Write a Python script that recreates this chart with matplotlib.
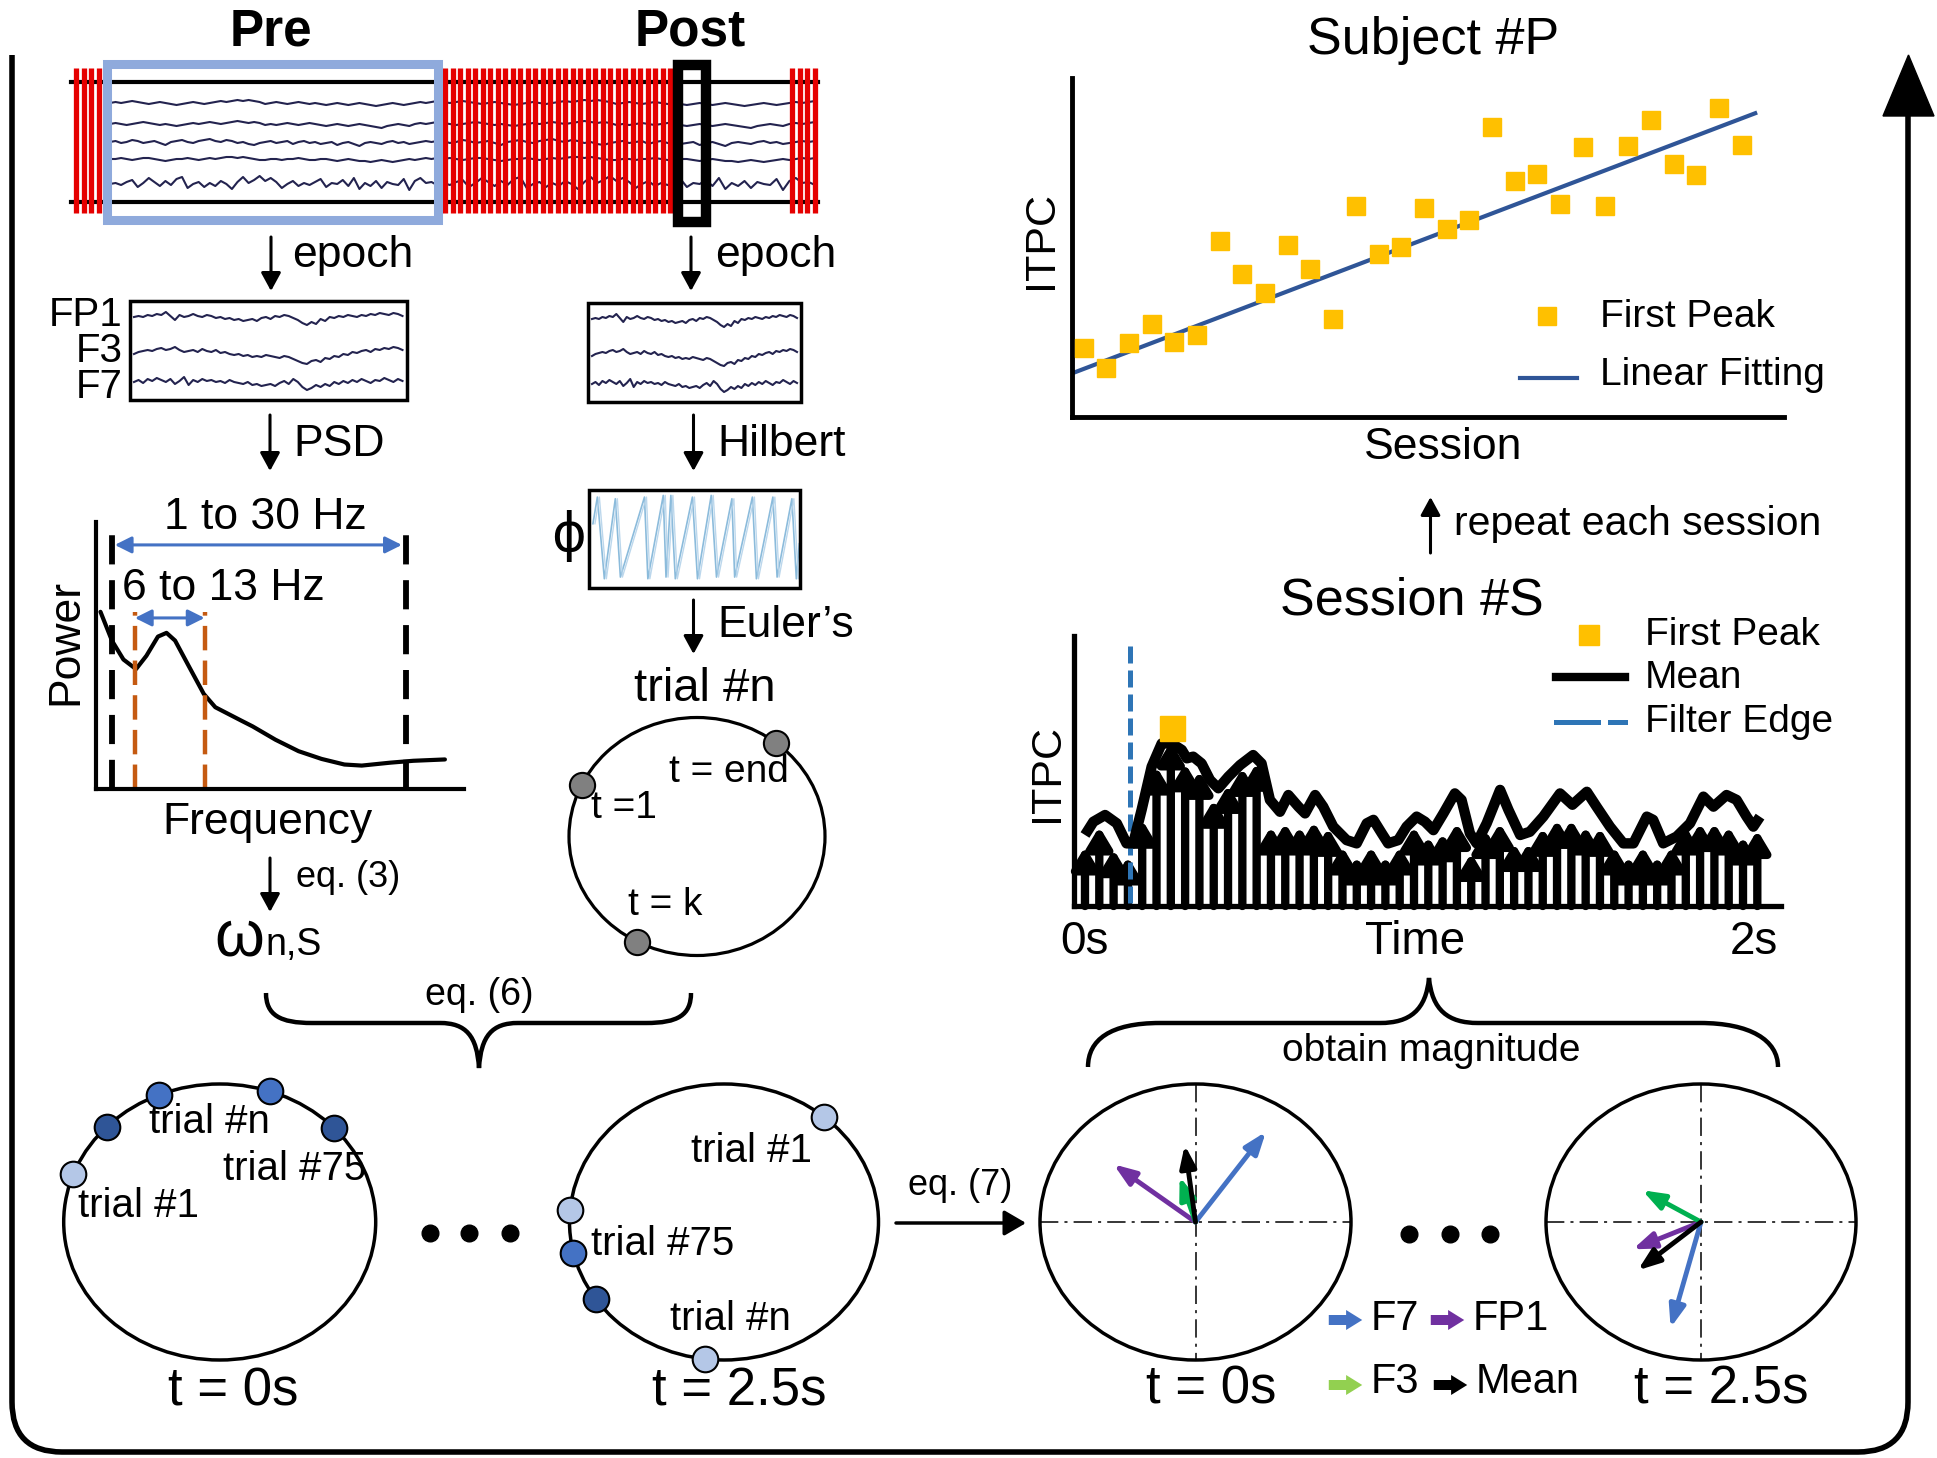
import numpy as np
import matplotlib
matplotlib.use("Agg")
import matplotlib.pyplot as plt
from matplotlib.patches import Ellipse, Rectangle, FancyArrowPatch, PathPatch, Polygon
from matplotlib.path import Path

plt.rcParams['font.family'] = ['Liberation Sans', 'DejaVu Sans']

# ---------------- data ----------------
# Subject #P : first-peak ITPC per session + linear fit
sessions = np.arange(1, 31)
first_peak_itpc = [0.203, 0.144, 0.219, 0.274, 0.222, 0.242, 0.520, 0.421, 0.367, 0.507,
                   0.436, 0.288, 0.623, 0.480, 0.501, 0.616, 0.555, 0.581, 0.856, 0.697,
                   0.717, 0.627, 0.796, 0.623, 0.799, 0.876, 0.746, 0.714, 0.911, 0.802]
fit_session = [0.58, 30.6]
fit_itpc = [0.131, 0.896]

# Session #S : ITPC over time (mean curve + single arrows)
mean_t = [0.000, 0.025, 0.060, 0.095, 0.124, 0.144, 0.169, 0.199, 0.229, 0.259,
          0.289, 0.304, 0.323, 0.348, 0.373, 0.398, 0.428, 0.463, 0.502, 0.527,
          0.552, 0.582, 0.607, 0.637, 0.657, 0.687, 0.711, 0.741, 0.781, 0.811,
          0.841, 0.861, 0.886, 0.905, 0.935, 0.960, 0.990, 1.015, 1.040, 1.070,
          1.104, 1.124, 1.149, 1.169, 1.199, 1.239, 1.264, 1.299, 1.328, 1.368,
          1.418, 1.455, 1.498, 1.527, 1.567, 1.607, 1.637, 1.677, 1.696, 1.726,
          1.766, 1.806, 1.846, 1.876, 1.915, 1.945, 1.975, 1.995, 2.015]
mean_itpc = [0.263, 0.312, 0.337, 0.306, 0.232, 0.232, 0.356, 0.516, 0.602, 0.602,
             0.578, 0.547, 0.553, 0.528, 0.467, 0.436, 0.479, 0.522, 0.559, 0.528,
             0.393, 0.349, 0.411, 0.368, 0.343, 0.411, 0.368, 0.294, 0.244, 0.232,
             0.306, 0.319, 0.269, 0.232, 0.244, 0.294, 0.331, 0.312, 0.281, 0.343,
             0.417, 0.393, 0.269, 0.232, 0.306, 0.430, 0.356, 0.263, 0.275, 0.331,
             0.417, 0.375, 0.423, 0.368, 0.294, 0.232, 0.232, 0.331, 0.319, 0.232,
             0.257, 0.306, 0.405, 0.368, 0.411, 0.393, 0.331, 0.294, 0.331]
stem_step = 0.0427
stem_itpc = [0.22, 0.294, 0.21, 0.183, 0.319, 0.516, 0.609, 0.528, 0.50, 0.393,
             0.448, 0.511, 0.53, 0.294, 0.307, 0.294, 0.312, 0.289, 0.22, 0.183,
             0.22, 0.183, 0.22, 0.294, 0.257, 0.269, 0.307, 0.196, 0.281, 0.307,
             0.233, 0.233, 0.289, 0.319, 0.319, 0.294, 0.289, 0.22, 0.183, 0.22,
             0.183, 0.22, 0.294, 0.307, 0.307, 0.294, 0.257, 0.281]
peak_t, peak_itpc = 0.261, 0.661
filter_edge_t = 0.133

# PSD sketch
psd_freq = [0.40, 1.52, 2.65, 3.88, 4.90, 6.03, 6.87, 7.71, 9.11, 10.52, 11.65,
            14.18, 15.31, 17.55, 19.81, 22.06, 24.30, 26.0, 28.81, 31.05, 34.15]
psd_power = [0.663, 0.555, 0.484, 0.448, 0.498, 0.570, 0.584, 0.555, 0.455, 0.355,
             0.305, 0.255, 0.233, 0.183, 0.140, 0.111, 0.090, 0.086, 0.097, 0.104, 0.109]
band_wide = [1.53, 30.38]
band_alpha = [3.77, 10.6]

# EEG traces (offsets, px up)
epoch_fp1 = [0, 1, 0, 2, 1, 3, 2, 5, 1, -3, 2, 0, 1, 3, 1, 0, 2, 1, -1, 0, -2, -1, -3, -2, -4,
             -3, -2, -4, -1, 0, -2, 1, 0, 2, 1, -1, -3, -6, -8, -5, -7, -2, -4, 0, -1, 1, 0,
             2, 1, 0, 2, 1, 3, 2, 4, 3, 2, 4, 3, 1]
epoch_f3 = [-2, 0, 1, 2, 1, 3, 4, 2, 3, 5, 2, 0, 1, 2, 0, 3, 1, 0, 2, -1, 0, -2, -3, -2, -4,
            -3, -5, -4, -5, -3, -4, -5, -6, -4, -5, -7, -9, -11, -12, -9, -8, -10, -6, -7,
            -4, -5, -2, -3, 0, -1, 1, 2, 0, 3, 2, 4, 3, 5, 4, 2]
epoch_f7 = [0, 2, -1, 3, 1, 4, 2, 0, 3, -2, 1, 5, -3, 2, 0, 3, 1, 2, 0, 1, -1, 2, 0, -1, -2,
            0, -3, -2, -4, -3, -2, -4, -1, 1, -2, 3, 0, -5, -8, -6, -3, -5, -2, -4, 0, -2, 1,
            -1, 2, 0, 3, 1, -1, 2, 1, 4, 2, 0, 3, 1]
strip_1 = [0, 1, 0, 1, 2, 1, 0, -1, 0, 1, 0, -1, -2, -1, 0, 1, 0, -1, 0, 1, 2, 1, 2, 3, 2, 3,
           2, 1, -1, 0, 1, 0, -1, 0, 1, 0, -1, 0, -1, -2, -1, 0, -1, -2, -1, 0, -1, -2, -3,
           -2, -1, 0, -1, -2, -1, 0, 1, 0, 1, 2]
strip_2 = [0, 1, 0, -1, 0, 1, 2, 1, 0, -1, 0, -1, -2, -1, 0, 1, 0, 1, 2, 1, 0, 1, 2, 3, 2, 1,
           2, 1, -1, 0, -1, 0, 1, 0, -1, 0, 1, 0, -1, -2, -1, 0, -1, -2, -1, 0, -1, -2, -3,
           -4, -2, -1, 0, -1, -2, 0, 1, 0, 1, 2]
strip_3 = [0, 1, -1, 0, 2, 1, -1, 0, 1, -1, -3, 0, 1, 2, 0, -1, 1, 2, 3, 1, 0, 2, 1, -1, 0,
           -2, -3, -1, 0, 1, -1, 0, 1, -2, 0, 1, -1, 0, -2, -1, 0, -3, -1, 0, -2, -4, -1, 0,
           -1, -2, 0, 1, -1, 0, -2, -1, 0, 1, 0, 1]
strip_4 = [0, 0, 1, 0, -1, 0, 1, 1, 0, -1, -2, -1, 0, 0, 1, 0, -1, 0, 1, 0, 1, 2, 2, 1, 2, 1,
           0, -1, -1, 0, 0, -1, 0, 0, 1, 0, -1, -1, 0, 0, -1, -2, -1, 0, -1, -2, -2, -3, -2,
           -1, -2, -3, -2, -1, 0, -1, 0, 1, 0, 1]
strip_5 = [0, 1, -1, 2, 4, -3, 1, 6, 2, -2, 3, -1, 5, 7, -4, 0, 2, -3, 1, -2, 3, 0, -5, 2, 7,
           1, 4, 8, 3, 6, 2, -4, 0, 3, -2, 1, -1, 2, 5, -3, 1, 0, 4, -2, 6, -5, 1, -2, 3, -4,
           2, 0, -1, 5, -6, 3, 6, 1, 2, -1]

# Hilbert phase sketch (fractions of the box)
saw_x = [.021, .042, .075, .127, .151, .265, .281, .354, .367, .390, .411, .492, .516,
         .581, .606, .679, .692, .776, .795, .873, .893, .963, .984, .998]
saw_y = [.653, .925, .092, .908, .109, .925, .092, .942, .109, .942, .092, .925, .092,
         .942, .109, .908, .109, .925, .092, .925, .109, .908, .092, .449]

# phases (deg) on the unit circles
trial_phase = [51.9, 154.3, 242.1]
phase_t0 = [159.6, 136.5, 113.0, 71.3, 43.1]
shade_t0 = ['light', 'dark', 'mid', 'mid', 'dark']
phase_t25 = [49.6, 175.0, 192.8, 213.8, 262.8]
shade_t25 = ['light', 'light', 'mid', 'dark', 'light']

# channel vectors (x, y in radius units): F7, FP1, F3, Mean
channels = ['F7', 'FP1', 'F3', 'Mean']
vec_t0 = [(0.453, 0.654), (-0.527, 0.418), (-0.102, 0.328), (-0.069, 0.558)]
vec_t25 = [(-0.196, -0.766), (-0.44, -0.198), (-0.379, 0.23), (-0.408, -0.35)]

# ---------------- styling ----------------
YELLOW = '#FFC000'
FIT_BLUE = '#2F5597'
EDGE_BLUE = '#2E75B6'
ARR_BLUE = '#4472C4'
ORANGE = '#C55A11'
RED = '#E50000'
TRACE = '#23234F'
SHADES = {'light': '#B4C7E7', 'mid': '#4472C4', 'dark': '#2F5597'}
VEC_COL = {'F7': '#4472C4', 'FP1': '#7030A0', 'F3': '#00B050', 'Mean': 'black'}
LEG_COL = {'F7': '#4472C4', 'FP1': '#7030A0', 'F3': '#92D050', 'Mean': 'black'}

W, H = 1937, 1458
fig = plt.figure(figsize=(W / 100, H / 100), dpi=100)
ax = fig.add_axes([0, 0, 1, 1])
ax.set_xlim(0, W)
ax.set_ylim(H, 0)
ax.axis('off')


def inset(l, t, r, b):
    a = fig.add_axes([l / W, 1 - b / H, (r - l) / W, (b - t) / H])
    a.set_facecolor('none')
    a.set_xticks([])
    a.set_yticks([])
    for s in ['top', 'right']:
        a.spines[s].set_visible(False)
    return a


def txt(x, y, s, size, ha='left', va='baseline', **kw):
    ax.text(x, y, s, fontsize=size, ha=ha, va=va, **kw)


def arrow(a, p0, p1, color='black', lw=2.2, ms=20, hl=0.55, hw=0.3, style='-|>', z=3):
    a.annotate('', xy=p1, xytext=p0, annotation_clip=False,
               arrowprops=dict(arrowstyle=f'{style},head_length={hl},head_width={hw}',
                               color=color, lw=lw, mutation_scale=ms,
                               shrinkA=0, shrinkB=0), zorder=z)


def on_ellipse(cx, cy, rx, ry, deg):
    r = np.deg2rad(deg)
    return cx + rx * np.cos(r), cy - ry * np.sin(r)


def trace(vals, x0, x1, y0, lw=1.3, color=TRACE, z=2):
    xs = np.linspace(x0, x1, len(vals))
    ax.plot(xs, y0 - np.array(vals), color=color, lw=lw, zorder=z)


def brace(pts, lw=3.2):
    codes = [Path.MOVETO, Path.CURVE4, Path.CURVE4, Path.CURVE4, Path.LINETO,
             Path.CURVE4, Path.CURVE4, Path.CURVE4, Path.CURVE4, Path.CURVE4, Path.CURVE4,
             Path.LINETO, Path.CURVE4, Path.CURVE4, Path.CURVE4]
    ax.add_patch(PathPatch(Path(pts, codes), fill=False, lw=lw, color='black'))


# ---------------- outer frame with arrow ----------------
frame = Path([(12, 55), (12, 1402), (12, 1452), (62, 1452), (1858, 1452),
              (1908, 1452), (1908, 1402), (1908, 112)],
             [Path.MOVETO, Path.LINETO, Path.CURVE3, Path.CURVE3, Path.LINETO,
              Path.CURVE3, Path.CURVE3, Path.LINETO])
ax.add_patch(PathPatch(frame, fill=False, lw=4, color='black'))
ax.add_patch(Polygon([(1908.5, 55), (1883, 116), (1934, 116)], color='black'))

# ---------------- raw EEG strip ----------------
txt(271, 45, 'Pre', 37, ha='center', weight='bold')
txt(690, 45, 'Post', 37, ha='center', weight='bold')
strip_y = [103, 124, 142, 159, 184]
for vals, yy in zip([strip_1, strip_2, strip_3, strip_4, strip_5], strip_y):
    trace(vals, 110, 437, yy, lw=1.5)
    trace(vals, 437, 815, yy, lw=1.5)
ax.plot([71, 818], [81.5, 81.5], color='black', lw=3, zorder=2)
ax.plot([71, 818], [202, 202], color='black', lw=3, zorder=2)
for x0, n in [(76, 4), (445, 31), (792, 4)]:
    ax.vlines(x0 + 7.5 * np.arange(n), 68, 213, colors=RED, lw=3.8, zorder=3)
ax.add_patch(Rectangle((106.5, 63.5), 331, 156, fill=False, lw=6.5, ec='#8FAADC', zorder=4))
ax.add_patch(Rectangle((678, 65), 27.5, 157, fill=False, lw=7.5, ec='black', zorder=4))

# epoch arrows
arrow(ax, (271, 237), (271, 291))
arrow(ax, (691, 237), (691, 291))
txt(292, 267, 'epoch', 32)
txt(715, 267, 'epoch', 32)

# epoch boxes
for bx0, bx1, by0, by1 in [(130, 406.5, 301, 400), (588, 801, 303, 402)]:
    ax.add_patch(Rectangle((bx0, by0), bx1 - bx0, by1 - by0, fill=False, lw=2.5, ec='black', zorder=4))
    off = by0 - 301
    for vals, yy in zip([epoch_fp1, epoch_f3, epoch_f7], [317, 352, 382]):
        trace(vals, bx0 + 4, bx1 - 4, yy + off, lw=1.5)
for lab, yb in zip(['FP1', 'F3', 'F7'], [326, 362, 398]):
    txt(123, yb, lab, 29, ha='right')

# PSD / Hilbert arrows
arrow(ax, (270, 415), (270, 471))
txt(293, 456, 'PSD', 32)
arrow(ax, (693.5, 415), (693.5, 471))
txt(717, 456, 'Hilbert', 32)

# ---------------- PSD sketch ----------------
ap = inset(96.4, 522, 463.8, 788.5)
ap.set_xlim(0, 36)
ap.set_ylim(0, 1)
for s in ['left', 'bottom']:
    ap.spines[s].set_linewidth(3)
ap.plot(psd_freq, psd_power, color='black', lw=3, solid_capstyle='round')
for f in band_wide:
    ap.plot([f, f], [0, 1], color='black', lw=4.2, ls=(0, (5, 2.7)))
for f in band_alpha:
    ap.plot([f, f], [0, 0.663], color=ORANGE, lw=3.2, ls=(0, (5.5, 2.3)))
arrow(ap, (band_wide[0] + 0.27, 0.914), (band_wide[1] - 0.45, 0.914), color=ARR_BLUE,
      lw=2.2, ms=20, hl=0.5, hw=0.25, style='<|-|>')
arrow(ap, (band_alpha[0], 0.640), (band_alpha[1], 0.640), color=ARR_BLUE,
      lw=2.2, ms=20, hl=0.5, hw=0.25, style='<|-|>')
txt(265, 529, '1 to 30 Hz', 32, ha='center')
txt(122, 600, '6 to 13 Hz', 32)
ax.text(77, 642, 'Power', fontsize=32, rotation=90, rotation_mode='anchor',
        ha='center', va='baseline')
txt(267, 834, 'Frequency', 32, ha='center')

arrow(ax, (270, 858), (270, 912))
txt(296, 887, 'eq. (3)', 26)
txt(214, 955, 'ω', 46)
txt(265, 955, 'n,S', 27)

# ---------------- Hilbert box ----------------
hb = (588.5, 489.7, 799.7, 587.8)
ax.add_patch(Rectangle((hb[0], hb[1]), hb[2] - hb[0], hb[3] - hb[1], fill=False, lw=2.5, ec='black', zorder=4))
sx = hb[0] + np.array(saw_x) * (hb[2] - hb[0])
sy = hb[3] - np.array(saw_y) * (hb[3] - hb[1])
ax.plot(sx, sy, color='#7FB4D8', lw=1.2, alpha=0.9)
ax.plot(sx + 2, sy, color='#B5D3EA', lw=1.0, alpha=0.9)
ax.text(568, 536, 'ϕ', fontsize=38, ha='center', va='center', family=['DejaVu Sans'])

arrow(ax, (693.5, 600), (693.5, 654))
txt(717, 637, 'Euler’s', 32)
txt(705, 701, 'trial #n', 34, ha='center')

# trial circle
tc = (697, 836.5, 128, 119)
ax.add_patch(Ellipse(tc[:2], 2 * tc[2], 2 * tc[3], fill=False, lw=2.3, ec='black'))
for ph in trial_phase:
    px, py = on_ellipse(*tc, ph)
    ax.scatter(px, py, s=330, color='#808080', edgecolor='black', lw=1.5, zorder=5)
txt(729, 782, 't = end', 28, ha='center')
txt(591, 818, 't =1', 28)
txt(628, 915, 't = k', 28)

# eq. (6) brace
brace([(266, 993), (266, 1015), (280, 1023), (312, 1023), (440, 1023),
       (466, 1023), (477, 1036), (479, 1068), (481, 1036), (492, 1023), (518, 1023),
       (646, 1023), (678, 1023), (691, 1015), (691, 993)])
txt(479, 1005, 'eq. (6)', 27, ha='center')

# ---------------- per-time circles of trial phases ----------------
c_left = (219.7, 1222, 156, 138)
c_mid = (724, 1222, 154.5, 138)
for c, phs, shades in [(c_left, phase_t0, shade_t0), (c_mid, phase_t25, shade_t25)]:
    ax.add_patch(Ellipse(c[:2], 2 * c[2], 2 * c[3], fill=False, lw=2.5, ec='black'))
    for ph, sh in zip(phs, shades):
        px, py = on_ellipse(*c, ph)
        ax.scatter(px, py, s=340, color=SHADES[sh], edgecolor='black', lw=1.5, zorder=5)
txt(149, 1133, 'trial #n', 29)
txt(223, 1180, 'trial #75', 29)
txt(78, 1217, 'trial #1', 29)
txt(691, 1162, 'trial #1', 29)
txt(591, 1255, 'trial #75', 29)
txt(670, 1330, 'trial #n', 29)
txt(233, 1405, 't = 0s', 38, ha='center')
txt(739, 1405, 't = 2.5s', 38, ha='center')
ax.plot([430, 469, 510], [1233, 1233, 1233], 'o', color='black', ms=12)

arrow(ax, (896, 1223), (1026, 1223), lw=2.5, ms=22, hl=0.6, hw=0.35)
txt(908, 1195, 'eq. (7)', 26)

# ---------------- vector circles ----------------
c_r1 = (1195.5, 1222, 155.5, 138)
c_r2 = (1701, 1222, 155, 138)
for c, vecs in [(c_r1, vec_t0), (c_r2, vec_t25)]:
    cx, cy, rx, ry = c
    ax.add_patch(Ellipse((cx, cy), 2 * rx, 2 * ry, fill=False, lw=2.5, ec='black'))
    ax.plot([cx - rx, cx + rx], [cy, cy], color='black', lw=1.1, ls=(0, (12, 4, 2, 4)))
    ax.plot([cx, cx], [cy - ry, cy + ry], color='black', lw=1.1, ls=(0, (12, 4, 2, 4)))
    for ch, (vx, vy) in zip(channels, vecs):
        arrow(ax, (cx, cy), (cx + vx * rx, cy - vy * ry), color=VEC_COL[ch],
              lw=3.5, ms=22, hl=0.6, hw=0.22)
txt(1211, 1403, 't = 0s', 38, ha='center')
txt(1721, 1403, 't = 2.5s', 38, ha='center')
ax.plot([1409, 1450, 1490], [1234, 1234, 1234], 'o', color='black', ms=12)

# channel legend
for ch, (x0, y0) in zip(channels, [(1326, 1320), (1428, 1320), (1326, 1385), (1431, 1385)]):
    ax.add_patch(FancyArrowPatch((x0, y0), (x0 + 39, y0), mutation_scale=20, lw=0,
                                 color=LEG_COL[ch],
                                 arrowstyle='simple,head_length=0.58,head_width=0.72,tail_width=0.36'))
    txt(x0 + 45, y0 + 10 if y0 < 1350 else y0 + 8, ch, 30)

# obtain magnitude brace
brace([(1088, 1067), (1088, 1040), (1110, 1023), (1160, 1023), (1380, 1023),
       (1410, 1023), (1426, 1010), (1429, 978), (1432, 1010), (1448, 1023), (1478, 1023),
       (1700, 1023), (1750, 1023), (1778, 1040), (1778, 1067)])
txt(1431, 1061, 'obtain magnitude', 28, ha='center')

# ---------------- Session #S ITPC ----------------
txt(1412, 614, 'Session #S', 37.5, ha='center')
at = inset(1074, 636, 1781, 906)
at.set_xlim(-0.0328, 2.0776)
at.set_ylim(0, 1)
for s in ['left', 'bottom']:
    at.spines[s].set_linewidth(3.8)
for k, h in enumerate(stem_itpc):
    tt = k * stem_step
    arrow(at, (tt, 0), (tt, h), lw=6, ms=24, hl=0.5, hw=0.3, z=2)
at.plot([filter_edge_t, filter_edge_t], [0.011, 0.967], color=EDGE_BLUE, lw=3.6,
        ls=(0, (3.4, 1.4)), zorder=3)
at.plot(mean_t, mean_itpc, color='black', lw=7.5, solid_joinstyle='round',
        solid_capstyle='butt', zorder=4)
at.plot([peak_t], [peak_itpc], 's', color=YELLOW, ms=18, zorder=5)
ax.text(1058, 773, 'ITPC', fontsize=31, rotation=90, rotation_mode='anchor',
        ha='center', va='baseline')
txt(1084, 954, '0s', 33, ha='center')
txt(1415, 954, 'Time', 33, ha='center')
txt(1754, 954, '2s', 33, ha='center')
# legend
ax.plot([1589], [635], 's', color=YELLOW, ms=15)
txt(1645, 645, 'First Peak', 28)
ax.plot([1556, 1625], [677, 677], color='black', lw=6)
txt(1645, 688, 'Mean', 28)
ax.plot([1556, 1598], [722, 722], color=EDGE_BLUE, lw=3.6)
ax.plot([1610, 1625], [722, 722], color=EDGE_BLUE, lw=3.6)
txt(1645, 732, 'Filter Edge', 28)

# repeat arrow
arrow(ax, (1430.5, 553), (1430.5, 497))
txt(1454, 535, 'repeat each session', 29.5)

# ---------------- Subject #P scatter ----------------
txt(1433, 54, 'Subject #P', 37.5, ha='center')
asc = inset(1072, 78, 1784, 417)
asc.set_xlim(0.49, 31.87)
asc.set_ylim(0, 1)
for s in ['left', 'bottom']:
    asc.spines[s].set_linewidth(3.5)
asc.plot(fit_session, fit_itpc, color=FIT_BLUE, lw=3)
asc.plot(sessions, first_peak_itpc, 's', color=YELLOW, ms=13, zorder=3)
ax.text(1052, 240, 'ITPC', fontsize=31, rotation=90, rotation_mode='anchor',
        ha='center', va='baseline')
txt(1443, 459, 'Session', 32, ha='center')
ax.plot([1547], [316], 's', color=YELLOW, ms=13)
txt(1600, 327, 'First Peak', 28)
ax.plot([1520, 1577], [378, 378], color=FIT_BLUE, lw=3)
txt(1600, 385, 'Linear Fitting', 28)

fig.savefig('out.png', dpi=100)
